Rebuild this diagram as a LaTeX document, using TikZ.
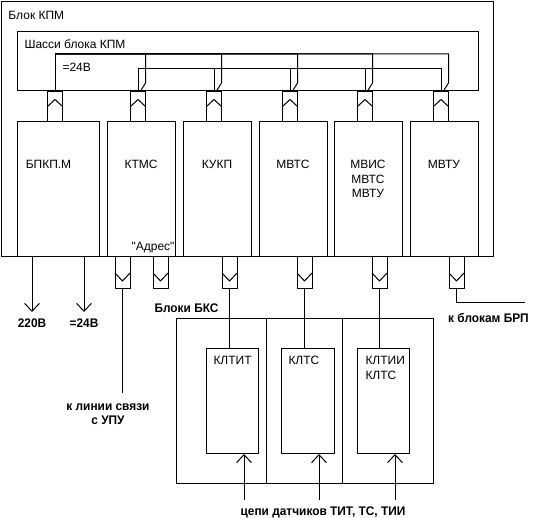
\documentclass[tikz,border=0pt]{standalone}
\usepackage{fontspec}
\setmainfont{Liberation Sans}[Ligatures=TeXOff]
\newfontfamily\capfont[FakeStretch=0.95]{Liberation Sans}
\usetikzlibrary{positioning, calc, arrows.meta}

\begin{document}
\begin{tikzpicture}[x=1pt, y=-1pt, line width=1pt, >={Straight Barb[length=8pt,width=15pt]},
		box/.style={draw, rectangle, anchor=north west, inner sep=0pt, outer sep=0pt},
		blk/.style={box, minimum width=68pt, minimum height=135pt},
		plug/.style={draw, rectangle, inner sep=0pt, outer sep=0pt, minimum width=15pt},
		plugup/.style={plug, minimum height=31pt, anchor=south},
		plugdn/.style={plug, minimum height=32pt, anchor=north},
		ttl/.style={inner sep=0pt, font=\fontsize{12}{14.5}\selectfont, align=center},
		tag/.style={inner sep=0pt, font=\capfont\bfseries\fontsize{12.5}{14}\selectfont, align=center}]
		\useasboundingbox (0,0) rectangle (536,518);
		% block KPM
		\node[box, minimum width=492pt, minimum height=255pt, label={[ttl, anchor=north west, xshift=7pt, yshift=-9pt] north west:Блок КПМ}] (kpm) at (1, 2) {};
		\node[box, minimum width=461pt, minimum height=59pt, label={[ttl, anchor=north west, xshift=7pt, yshift=-7pt] north west:Шасси блока КПМ}] (kpm_chassis) at (17, 32) {};
		\node[blk, minimum width=82pt, label={[ttl, anchor=north, xshift=-9.5pt, yshift=-38pt] north:БПКП.М}] (kpm_bpkp) at (17, 122) {};
		\node[blk, right=8pt of kpm_bpkp, label={[ttl, anchor=north, yshift=-38pt] north:КТМС}, label={[ttl, anchor=south east, yshift=4pt] south east:"Адрес"}] (kpm_ktms) {};
		\node[blk, right=8pt of kpm_ktms, label={[ttl, anchor=north, yshift=-38pt] north:КУКП}] (kpm_kukp) {};
		\node[blk, right=8pt of kpm_kukp, label={[ttl, anchor=north, yshift=-38pt] north:МВТС}] (kpm_mvts) {};
		\node[blk, right=7pt of kpm_mvts, label={[ttl, anchor=north, yshift=-38pt] north:{МВИС\\МВТС\\МВТУ}}] (kpm_mvis) {};
		\node[blk, right=8pt of kpm_mvis, label={[ttl, anchor=north, yshift=-38pt] north:МВТУ}] (kpm_mvtu) {};
		% connectors to the chassis
		\foreach \b/\p in {bpkp/1, ktms/2, kukp/3, mvts/4, mvis/5, mvtu/6} {
			\node[plugup] (up\p) at ($(kpm_\b.north)+(-3,0)$) {};
			\draw (up\p.west) -- ($(up\p.center)+(0,-7)$) -- (up\p.east);
			\draw[line width=2pt] (up\p.north west) -- (up\p.north east);
		}
		% =24V bus
		\coordinate (bus24) at ($(up1.north)+(0,-37)$);
		\coordinate (bus2) at ($(up2.north)+(0,-22)$);
		\draw (up1.north) -- (bus24);
		\node[ttl, anchor=north west] (lbl24) at ($(bus24)+(7,9)$) {=24В};
		\draw (up2.north) -- (bus2);
		\foreach \p in {3,4,5,6}
			\draw (up\p.north) |- (bus2);
		\foreach \p in {2,3,4,5,6}
			\draw ($(up\p.north)+(2.5,0)$) -- ++(5,-8) |- (bus24);
		% connectors below
		\foreach \b/\dx/\p in {ktms/-18.5/1, ktms/19.5/2, kukp/12.5/3, mvts/11.5/4, mvis/11.5/5, mvtu/12.5/6} {
			\node[plugdn] (dn\p) at ($(kpm_\b.south)+(\dx,0)$) {};
			\draw (dn\p.west) -- ($(dn\p.center)+(0,8)$) -- (dn\p.east);
		}
		% power
		\draw[->] ($(kpm_bpkp.south)+(-26,0)$) -- ++(0,55) coordinate (pw220);
		\draw[->] ($(kpm_bpkp.south)+(26,0)$) -- ++(0,55) coordinate (pw24);
		\node[tag, below=6pt of pw220] (lbl220) {220В};
		\node[tag, below=6pt of pw24] (lblpw24) {=24В};
		% blocks BKS
		\node[box, minimum width=90pt, minimum height=165pt] (bks_a) at (176, 319) {};
		\node[box, minimum width=76pt, minimum height=165pt, right=0pt of bks_a] (bks_b) {};
		\node[box, minimum width=91pt, minimum height=165pt, right=0pt of bks_b] (bks_c) {};
		\node[tag, anchor=south] (lblbks) at ($(bks_a.north west)+(10.5,-6)$) {Блоки БКС};
		\node[box, minimum width=52pt, minimum height=105pt, label={[ttl, anchor=north west, xshift=7pt, yshift=-7pt] north west:КЛТИТ}] (bks_kltit) at (206, 349) {};
		\node[box, minimum width=53pt, minimum height=105pt, label={[ttl, anchor=north west, xshift=7pt, yshift=-7pt] north west:КЛТС}] (bks_klts) at (281, 349) {};
		\node[box, minimum width=52pt, minimum height=105pt, label={[ttl, anchor=north west, xshift=8pt, yshift=-7pt, align=left] north west:{КЛТИИ\\КЛТС}}] (bks_kltii) at (357, 349) {};
		\draw (dn3.south) -- (dn3.south |- bks_kltit.north);
		\draw (dn4.south) -- (dn4.south |- bks_klts.north);
		\draw (dn5.south) -- (dn5.south |- bks_kltii.north);
		\foreach \k/\dx in {kltit/12, klts/11.5, kltii/12}
			\draw[<-] ($(bks_\k.south)+(\dx,0)$) -- ++(0,46);
		\node[tag, anchor=north] (lblsens) at ($(bks_klts.south)+(15.5,52)$) {цепи датчиков ТИТ, ТС, ТИИ};
		% outgoing lines
		\draw (dn1.south) -- ++(0,104) coordinate (upu);
		\node[tag, anchor=north] (lblupu) at ($(upu)+(-14.5,10)$) {к линии связи\\с УПУ};
		\draw (dn6.south) -- ++(0,14) -- ++(68.5,0) coordinate (brp);
		\node[tag, anchor=north] (lblbrp) at ($(brp)+(-36.5,10)$) {к блокам БРП};
	\end{tikzpicture}
\end{document}
